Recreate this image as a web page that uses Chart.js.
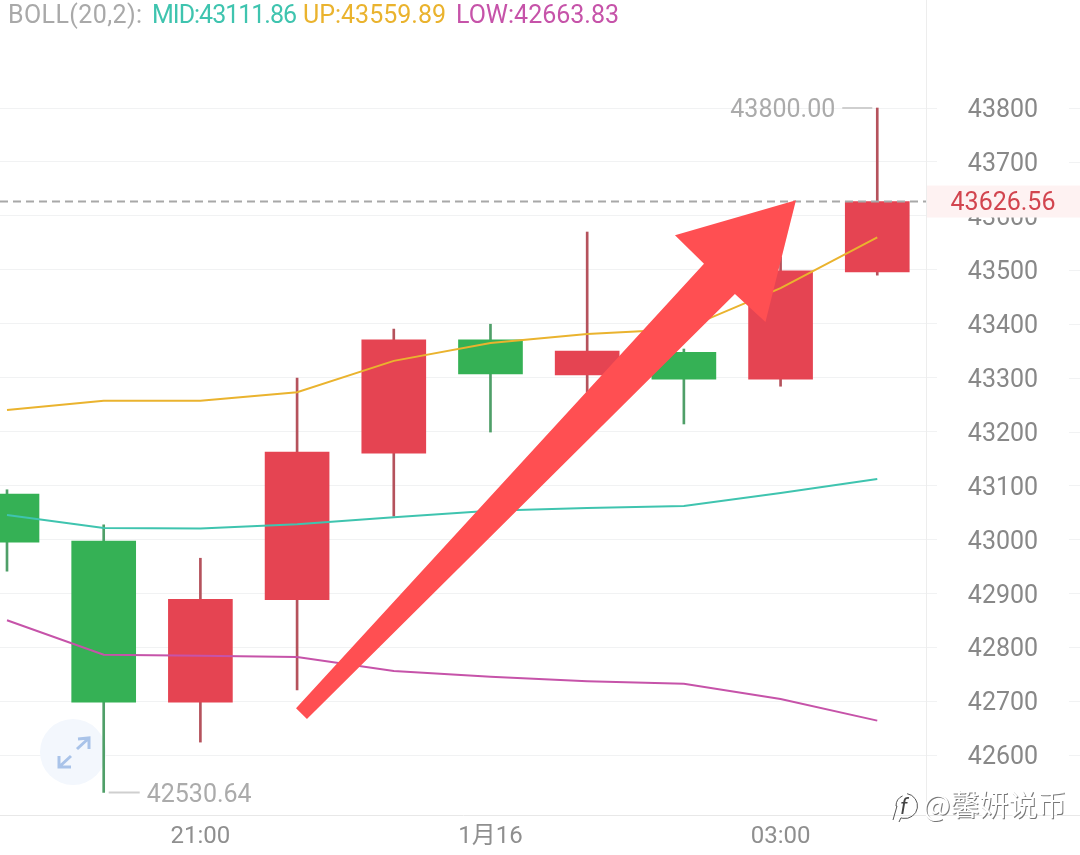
<!DOCTYPE html>
<html lang="zh">

<head>
  <meta charset="UTF-8">
  <title>BOLL K-line</title>
  <script src="https://cdn.jsdelivr.net/npm/chart.js"></script>
  <style>
    html, body { margin: 0; padding: 0; background: #fff; }
    canvas { display: block; }
  </style>
</head>

<body>

  <canvas id="kline" width="1080" height="855"></canvas>

  <script>
    // Candle values, one entry per candle
    const candleIndex = [0, 1, 2, 3, 4, 5, 6, 7, 8, 9];
    const opens = [43084, 42997, 42698, 42888, 43160, 43370, 43305, 43347, 43297, 43496];
    const closes = [42995, 42698, 42889, 43162, 43370, 43307, 43349, 43297, 43498, 43626.56];
    const highs = [43092, 43027, 42965, 43299, 43390, 43399, 43570, 43353, 43524, 43800];
    const lows = [42941, 42530.64, 42624, 42721, 43043, 43199, 43273, 43214, 43284, 43490];

    // BOLL(20,2)
    const bollMid = [43045, 43021, 43020, 43028, 43041, 43053, 43058, 43062, 43086, 43111.86];
    const bollUp = [43240, 43257, 43257, 43273, 43331, 43364, 43381, 43390, 43466, 43559.89];
    const bollLow = [42850, 42786, 42784, 42782, 42756, 42745, 42737, 42732, 42704, 42663.83];

    // Axis ticks
    const priceTicks = [42600, 42700, 42800, 42900, 43000, 43100, 43200, 43300, 43400, 43500, 43600, 43700, 43800];
    const timeTickPos = [2, 5, 8];
    const timeTickLabels = ['21:00', '1月16', '03:00'];

    // Hand drawn arrow outline, in candle index and price
    const arrowX = [2.989, 7.208, 6.908, 8.159, 7.844, 7.528, 3.102];
    const arrowPrice = [42687, 43511, 43564, 43629, 43403, 43455, 42667];

    const RED = '#E54452', GREEN = '#35B155';
    const RED_WICK = '#B5525C', GREEN_WICK = '#4F9F68';
    const FONT = "Roboto, 'Noto Sans CJK SC', sans-serif";

    const isUp = i => closes[i] >= opens[i];
    const toLine = arr => arr.map((v, i) => ({ x: candleIndex[i], y: v }));
    const xMin = -0.0724, xMax = 9.504;
    const last = closes[closes.length - 1];

    const overlay = {
      id: 'overlay',
      beforeDatasetsDraw(chart) {
        // expand button sits behind the candles
        const c = chart.ctx;
        c.save();
        c.fillStyle = '#F3F7FD';
        c.beginPath();
        c.arc(73, 752, 33, 0, Math.PI * 2);
        c.fill();
        c.strokeStyle = '#A9C3E9';
        c.lineWidth = 3;
        c.beginPath();
        c.moveTo(77, 749); c.lineTo(89, 738);
        c.moveTo(78, 739); c.lineTo(89, 738); c.lineTo(89, 749);
        c.moveTo(59, 767); c.lineTo(71, 756);
        c.moveTo(59, 756); c.lineTo(59, 767); c.lineTo(71, 767);
        c.stroke();
        c.restore();
      },
      afterDraw(chart) {
        const c = chart.ctx, x = chart.scales.x, y = chart.scales.y;
        const area = chart.chartArea;
        c.save();

        // grid stubs right of the price labels, and axis line to the edge
        c.strokeStyle = '#F1F2F3';
        c.lineWidth = 1;
        priceTicks.forEach(v => {
          const py = Math.round(y.getPixelForValue(v)) + 0.5;
          c.beginPath(); c.moveTo(1069, py); c.lineTo(1080, py); c.stroke();
        });
        c.strokeStyle = '#E8E8E8';
        c.beginPath(); c.moveTo(area.right, area.bottom + 0.5); c.lineTo(1080, area.bottom + 0.5); c.stroke();

        // price labels, drawn here because the axis gives no way to nudge them down
        c.font = '25px ' + FONT;
        c.textAlign = 'center';
        c.textBaseline = 'middle';
        c.fillStyle = '#888888';
        priceTicks.forEach(v => c.fillText(String(v), 1003, y.getPixelForValue(v) + 3));

        // last price badge
        const ly = y.getPixelForValue(last);
        c.fillStyle = '#FEF2F2';
        c.fillRect(area.right + 1, ly - 16, 1080 - area.right - 1, 32);
        c.fillStyle = '#D2454F';
        c.fillText(last.toFixed(2), 1003, ly + 2);

        // high and low markers
        const hi = highs.indexOf(Math.max(...highs)), lo = lows.indexOf(Math.min(...lows));
        const hx = x.getPixelForValue(hi), hy = y.getPixelForValue(highs[hi]);
        const lx = x.getPixelForValue(lo), loy = y.getPixelForValue(lows[lo]);
        c.strokeStyle = '#CFCFCF';
        c.lineWidth = 2;
        c.beginPath();
        c.moveTo(hx - 35, hy); c.lineTo(hx - 5, hy);
        c.moveTo(lx + 5, loy); c.lineTo(lx + 36, loy);
        c.stroke();
        c.fillStyle = '#ABABAB';
        c.textAlign = 'right';
        c.fillText(highs[hi].toFixed(2), hx - 42, hy + 3);
        c.textAlign = 'left';
        c.fillText(lows[lo].toFixed(2), lx + 43, loy + 3);

        // arrow
        c.fillStyle = '#FF4F52';
        c.beginPath();
        arrowX.forEach((v, i) => {
          const px = x.getPixelForValue(v), py = y.getPixelForValue(arrowPrice[i]);
          if (i === 0) c.moveTo(px, py); else c.lineTo(px, py);
        });
        c.closePath();
        c.fill();

        // BOLL header
        c.textAlign = 'left';
        c.fillStyle = '#A9A9A9';
        c.letterSpacing = '0.4px';
        c.fillText('BOLL(20,2):', 8, 17);
        c.fillStyle = '#3FC4AF';
        c.letterSpacing = '-1px';
        c.fillText('MID:' + bollMid[9].toFixed(2), 152, 17);
        c.letterSpacing = '0px';
        c.fillStyle = '#EAB32E';
        c.fillText('UP:' + bollUp[9].toFixed(2), 303, 17);
        c.fillStyle = '#C653A9';
        c.fillText('LOW:' + bollLow[9].toFixed(2), 456, 17);

        // watermark
        c.font = "29px 'Noto Sans CJK SC'";
        c.fillStyle = '#777';
        c.fillText('@馨妍说币', 924, 806);
        c.fillStyle = '#fff';
        c.fillText('@馨妍说币', 923, 805);
        c.strokeStyle = '#555';
        c.lineWidth = 1;
        c.beginPath();
        c.arc(905, 806, 12.5, -1.4, 1.9);
        c.lineTo(899, 822);
        c.moveTo(893, 820);
        c.lineTo(897, 806);
        c.arc(907, 806, 11, 3.14, 4.3);
        c.stroke();
        c.font = 'italic 22px ' + FONT;
        c.fillStyle = '#444';
        c.fillText('f', 900, 808);
        c.restore();
      }
    };

    new Chart(document.getElementById('kline'), {
      data: {
        datasets: [
          {
            type: 'line', label: 'LAST', order: 2,
            data: [{ x: xMin, y: last }, { x: xMax, y: last }],
            borderColor: '#A8A8A8', borderWidth: 2, borderDash: [8, 5], pointRadius: 0
          },
          { type: 'line', label: 'MID', order: 1, data: toLine(bollMid), borderColor: '#3FC4AF', borderWidth: 2, pointRadius: 0 },
          { type: 'line', label: 'UP', order: 1, data: toLine(bollUp), borderColor: '#EAB32E', borderWidth: 2, pointRadius: 0 },
          { type: 'line', label: 'LOW', order: 1, data: toLine(bollLow), borderColor: '#C653A9', borderWidth: 2, pointRadius: 0 },
          {
            type: 'bar', label: 'body', order: 3, grouped: false, barThickness: 64,
            data: candleIndex.map(i => ({ x: i, y: [opens[i], closes[i]] })),
            backgroundColor: candleIndex.map(i => isUp(i) ? RED : GREEN)
          },
          {
            type: 'bar', label: 'wick', order: 4, grouped: false, barThickness: 2,
            data: candleIndex.map(i => ({ x: i, y: [lows[i], highs[i]] })),
            backgroundColor: candleIndex.map(i => isUp(i) ? RED_WICK : GREEN_WICK)
          }
        ]
      },
      options: {
        responsive: false,
        animation: false,
        layout: { padding: 0 },
        plugins: { legend: { display: false }, tooltip: { enabled: false } },
        scales: {
          x: {
            type: 'linear', offset: false, min: xMin, max: xMax,
            afterBuildTicks: s => { s.ticks = timeTickPos.map(v => ({ value: v })); },
            // the labels never reach the plot edge, so no room is reserved for them
            afterFit: s => { s.height = 40; s.paddingLeft = 0; s.paddingRight = 0; },
            grid: { display: false },
            border: { display: true, color: '#E8E8E8' },
            ticks: {
              autoSkip: false, maxRotation: 0, padding: 0, color: '#8F8F8F',
              font: { family: FONT, size: 24 },
              callback: v => timeTickLabels[timeTickPos.indexOf(v)]
            }
          },
          y: {
            position: 'right', min: 42488.8, max: 44000.3,
            afterBuildTicks: s => { s.ticks = priceTicks.map(v => ({ value: v })); },
            afterFit: s => { s.width = 154; s.paddingTop = 0; s.paddingBottom = 0; },
            grid: { color: '#F1F2F3', tickLength: 11, drawTicks: true },
            border: { color: '#EDEDED' },
            ticks: { display: false }
          }
        }
      },
      plugins: [overlay]
    });
  </script>

</body>

</html>
